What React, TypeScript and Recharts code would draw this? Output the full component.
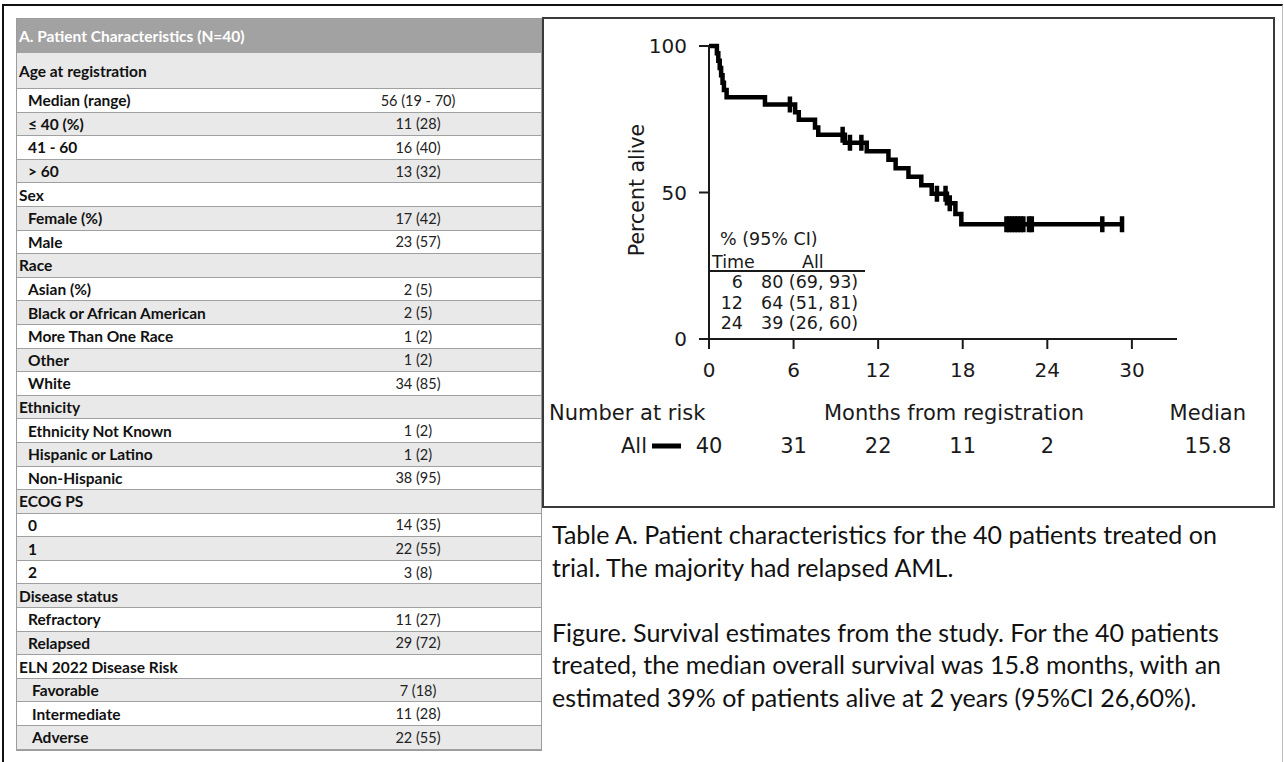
import { ComposedChart, Line, Scatter, XAxis, YAxis } from "recharts";

// ---- table data ----
const tableHeader = "A. Patient Characteristics (N=40)";
const sectionTitles = [
  "Age at registration",
  "Sex",
  "Race",
  "Ethnicity",
  "ECOG PS",
  "Disease status",
  "ELN 2022 Disease Risk",
];
const ageLabels = ["Median (range)", "≤ 40 (%)", "41 - 60", "> 60"];
const ageValues = ["56 (19 - 70)", "11 (28)", "16 (40)", "13 (32)"];
const sexLabels = ["Female (%)", "Male"];
const sexValues = ["17 (42)", "23 (57)"];
const raceLabels = ["Asian (%)", "Black or African American", "More Than One Race", "Other", "White"];
const raceValues = ["2 (5)", "2 (5)", "1 (2)", "1 (2)", "34 (85)"];
const ethnicityLabels = ["Ethnicity Not Known", "Hispanic or Latino", "Non-Hispanic"];
const ethnicityValues = ["1 (2)", "1 (2)", "38 (95)"];
const ecogLabels = ["0", "1", "2"];
const ecogValues = ["14 (35)", "22 (55)", "3 (8)"];
const diseaseLabels = ["Refractory", "Relapsed"];
const diseaseValues = ["11 (27)", "29 (72)"];
const elnLabels = ["Favorable", "Intermediate", "Adverse"];
const elnValues = ["7 (18)", "11 (28)", "22 (55)"];

// ---- survival curve data ----
const stepTimes = [0, 0.56, 0.66, 0.76, 0.86, 0.96, 1.06, 1.25, 3.97, 6.11, 6.37, 7.52, 7.75, 9.64, 11.19, 12.73, 13.24, 14.15, 15.06, 15.8, 16.88, 17.48, 17.9, 29.3];
const stepSurvival = [100, 97.5, 95, 92.5, 90, 87.5, 85, 82.5, 80, 77.4, 74.8, 72.2, 69.7, 67.0, 64.1, 61.2, 58.3, 55.4, 52.5, 49.6, 46.3, 42.7, 39.2, 39.2];
const censorTimes = [5.74, 9.48, 10.0, 10.81, 16.17, 16.78, 17.08, 21.1, 21.3, 21.5, 21.7, 21.9, 22.1, 22.3, 22.7, 22.9, 27.9, 29.3];
const censorSurvival = [80, 69.7, 67.0, 67.0, 49.6, 49.6, 46.3, 39.2, 39.2, 39.2, 39.2, 39.2, 39.2, 39.2, 39.2, 39.2, 39.2, 39.2];
const monthTicks = [0, 6, 12, 18, 24, 30];
const percentTicks = [0, 50, 100];
const riskTimes = [0, 6, 12, 18, 24];
const riskCounts = [40, 31, 22, 11, 2];
const medianSurvival = "15.8";
const insetTimes = [6, 12, 24];
const insetEstimates = ["80 (69, 93)", "64 (51, 81)", "39 (26, 60)"];

const captionTable = [
  "Table A. Patient characteristics for the 40 patients treated on",
  "trial. The majority had relapsed AML.",
];
const captionFigure = [
  "Figure. Survival estimates from the study. For the 40 patients",
  "treated, the median overall survival was 15.8 months, with an",
  "estimated 39% of patients alive at 2 years (95%CI 26,60%).",
];

const kmData = stepTimes.map((t, i) => ({ t, s: stepSurvival[i] }));
const censorData = censorTimes.map((t, i) => ({ t, s: censorSurvival[i] }));

const sections = [
  { title: sectionTitles[0], labels: ageLabels, values: ageValues, indent: 11 },
  { title: sectionTitles[1], labels: sexLabels, values: sexValues, indent: 11 },
  { title: sectionTitles[2], labels: raceLabels, values: raceValues, indent: 11 },
  { title: sectionTitles[3], labels: ethnicityLabels, values: ethnicityValues, indent: 11 },
  { title: sectionTitles[4], labels: ecogLabels, values: ecogValues, indent: 11 },
  { title: sectionTitles[5], labels: diseaseLabels, values: diseaseValues, indent: 11 },
  { title: sectionTitles[6], labels: elnLabels, values: elnValues, indent: 15 },
];

const KM_FONT = "'DejaVu Sans', sans-serif";
const TABLE_FONT = "Lato, 'Open Sans', sans-serif";
const INK = "#1a1a1a";
const X_MAX = 33.2;

function CensorMark(props: any) {
  const { cx, cy } = props;
  return <line x1={cx} x2={cx} y1={cy - 8} y2={cy + 8} stroke="#000" strokeWidth={4.5} />;
}

function PatientTable() {
  const rows: { label: string; value: string; title: boolean; indent: number }[] = [];
  sections.forEach((sec) => {
    rows.push({ label: sec.title, value: "", title: true, indent: 2 });
    sec.labels.forEach((l, i) => rows.push({ label: l, value: sec.values[i], title: false, indent: sec.indent }));
  });
  return (
    <div
      style={{
        position: "absolute",
        left: 16,
        top: 18,
        width: 526,
        border: "1px solid #9c9c9c",
        boxSizing: "border-box",
        fontFamily: TABLE_FONT,
      }}
    >
      <div
        style={{
          height: 34,
          background: "#a2a2a2",
          color: "#fff",
          fontWeight: 700,
          fontSize: 15.5,
          display: "flex",
          alignItems: "center",
          paddingLeft: 2,
        }}
      >
        {tableHeader}
      </div>
      {rows.map((r, i) => (
        <div
          key={i}
          style={{
            position: "relative",
            height: i === 0 ? 36 : 23.6,
            boxSizing: "border-box",
            background: i % 2 === 0 ? "#e9e9e9" : "#ffffff",
            borderBottom: "1.5px solid #a0a0a0",
            display: "flex",
            alignItems: "center",
            fontSize: 15.5,
            color: "#111",
          }}
        >
          <span style={{ paddingLeft: r.indent, fontWeight: 700 }}>{r.label}</span>
          <span
            style={{
              position: "absolute",
              left: 290,
              width: 222,
              textAlign: "center",
              color: "#222",
              fontSize: 14.5,
            }}
          >
            {r.value}
          </span>
        </div>
      ))}
    </div>
  );
}

export default function App() {
  const tick = { fontSize: 20, fill: INK, fontFamily: KM_FONT };
  return (
    <div style={{ position: "relative", width: 1284, height: 762, overflow: "hidden", background: "#fff" }}>
      <style>{`body{margin:0}`}</style>
      {/* outer frame */}
      <div
        style={{
          position: "absolute",
          left: 2,
          top: 4,
          width: 1281,
          height: 800,
          borderTop: "2px solid #111",
          borderLeft: "2px solid #111",
          borderRight: "1px solid #bbb",
          boxSizing: "border-box",
        }}
      />
      <PatientTable />

      <div style={{ position: "absolute", left: 542, top: 17 }}>
        <ComposedChart width={733} height={491} margin={{ top: 29, right: 98, left: 87, bottom: 44 }}>
          <XAxis
            xAxisId="main"
            type="number"
            dataKey="t"
            domain={[0, X_MAX]}
            ticks={monthTicks}
            tickSize={10}
            tickMargin={14}
            tick={tick}
            height={45}
            axisLine={{ stroke: INK, strokeWidth: 2 }}
            tickLine={{ stroke: INK, strokeWidth: 2 }}
            allowDataOverflow
          />
          <XAxis
            xAxisId="risk"
            type="number"
            dataKey="t"
            domain={[0, X_MAX]}
            ticks={riskTimes}
            tickFormatter={(v: number) => String(riskCounts[riskTimes.indexOf(v)])}
            axisLine={false}
            tickLine={false}
            tickSize={0}
            tickMargin={54}
            height={80}
            tick={{ ...tick, fontSize: 21 }}
            allowDataOverflow
          />
          <YAxis
            yAxisId="y"
            type="number"
            dataKey="s"
            domain={[0, 100]}
            ticks={percentTicks}
            width={80}
            tickSize={10}
            tickMargin={12}
            tick={tick}
            axisLine={{ stroke: INK, strokeWidth: 2 }}
            tickLine={{ stroke: INK, strokeWidth: 2 }}
          />
          <Line
            xAxisId="main"
            yAxisId="y"
            data={kmData}
            dataKey="s"
            type="stepAfter"
            stroke="#000"
            strokeWidth={4.5}
            dot={false}
            isAnimationActive={false}
          />
          <Scatter
            xAxisId="main"
            yAxisId="y"
            data={censorData}
            dataKey="s"
            shape={CensorMark}
            isAnimationActive={false}
          />
        </ComposedChart>
      </div>

      {/* chart frame */}
      <div
        style={{
          position: "absolute",
          left: 542,
          top: 17,
          width: 733,
          height: 491,
          border: "2px solid #3a3a3a",
          boxSizing: "border-box",
          pointerEvents: "none",
        }}
      />

      <svg
        width={1284}
        height={762}
        style={{ position: "absolute", left: 0, top: 0, pointerEvents: "none" }}
      >
        <g fontFamily={KM_FONT} fill={INK}>
          <text x={637} y={190} fontSize={20.5} textAnchor="middle" dominantBaseline="central" transform="rotate(-90 637 190)">
            Percent alive
          </text>
          <g fontSize={17.5}>
            <text x={720} y={244.5}>% (95% CI)</text>
            <text x={712} y={267.5}>Time</text>
            <text x={802} y={267.5}>All</text>
            {insetTimes.map((t, i) => (
              <g key={t}>
                <text x={743} y={288 + i * 20.5} textAnchor="end">{t}</text>
                <text x={761} y={288 + i * 20.5}>{insetEstimates[i]}</text>
              </g>
            ))}
          </g>
          <line x1={710} x2={865} y1={271} y2={271} stroke={INK} strokeWidth={2} />
          <g fontSize={21}>
            <text x={549} y={420}>Number at risk</text>
            <text x={954} y={420} textAnchor="middle">Months from registration</text>
            <text x={1246} y={420} textAnchor="end">Median</text>
            <text x={647} y={453} textAnchor="end">All</text>
            <text x={1208} y={453} textAnchor="middle">{medianSurvival}</text>
          </g>
          <line x1={652} x2={681} y1={446} y2={446} stroke="#000" strokeWidth={5} />
        </g>
        <g fontFamily={TABLE_FONT} fontSize={25} fill="#111">
          {captionTable.map((l, i) => (
            <text key={l} x={552} y={544 + i * 32.5}>{l}</text>
          ))}
          {captionFigure.map((l, i) => (
            <text key={l} x={552} y={642 + i * 32.3}>{l}</text>
          ))}
        </g>
      </svg>
    </div>
  );
}
